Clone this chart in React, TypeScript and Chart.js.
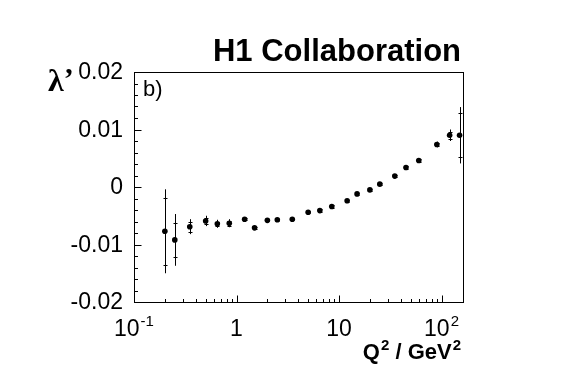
import React, { useEffect, useRef } from "react";
import { Chart, registerables } from "chart.js";

Chart.register(...registerables);

// ---- data ----
const q2 = [0.2, 0.25, 0.35, 0.5, 0.65, 0.85, 1.2, 1.5, 2.0, 2.5, 3.5, 5.0, 6.5, 8.5, 12, 15, 20, 25, 35, 45, 60, 90, 120, 150];
const lambdaPrime = [
  -0.0077, -0.0092, -0.0069, -0.0059, -0.0064, -0.0063, -0.0056, -0.0071, -0.0058, -0.0057, -0.0056, -0.0044,
  -0.0041, -0.0034, -0.0024, -0.0012, -0.0005, 0.0005, 0.0019, 0.0034, 0.0046, 0.0074, 0.009, 0.009,
];
const statErr = [
  0.0058, 0.0029, 0.0009, 0.0005, 0.0004, 0.0004, 0.0002, 0.0002, 0.0002, 0.0002, 0.0002, 0.0002,
  0.0002, 0.0002, 0.0002, 0.0002, 0.0002, 0.0002, 0.0002, 0.0002, 0.0002, 0.0003, 0.0006, 0.0038,
];
const totalErr = [
  0.0073, 0.0045, 0.0013, 0.0009, 0.0007, 0.0007, 0.0003, 0.0003, 0.0003, 0.0003, 0.0003, 0.0003,
  0.0003, 0.0003, 0.0003, 0.0003, 0.0003, 0.0003, 0.0003, 0.0003, 0.0003, 0.0005, 0.001, 0.0049,
];

const yTickValues = [-0.02, -0.01, 0, 0.01, 0.02];
const yTickLabels = ["-0.02", "-0.01", "0", "0.01", "0.02"];
const yMinorStep = 0.002;
const xTickValues = [0.1, 1, 10, 100];
const xTickBase = ["10", "1", "10", "10"];
const xTickExp = ["-1", "", "", "2"];
const xMin = 0.1;
const xMax = 162;
const yMin = -0.02;
const yMax = 0.02;

const titleText = "H1 Collaboration";
const yTitleMain = "λ";
const yTitlePrime = "’";
const panelText = "b)";
const xTitleParts = [
  { t: "Q", sup: false },
  { t: "2", sup: true },
  { t: " / GeV", sup: false },
  { t: "2", sup: true },
];

const SANS = "'Liberation Sans', Arial, Helvetica, sans-serif";
const SERIF = "'Liberation Serif', 'Times New Roman', serif";

const rootStylePlugin = {
  id: "rootStyle",
  beforeDatasetsDraw(chart: any) {
    const { ctx, scales } = chart;
    const x = scales.x;
    const y = scales.y;
    ctx.save();
    ctx.strokeStyle = "#000";
    ctx.lineWidth = 1;
    q2.forEach((q, i) => {
      const px = Math.round(x.getPixelForValue(q)) + 0.5;
      const v = lambdaPrime[i];
      const yT1 = y.getPixelForValue(v + totalErr[i]);
      const yT2 = y.getPixelForValue(v - totalErr[i]);
      ctx.beginPath();
      ctx.moveTo(px, yT1);
      ctx.lineTo(px, yT2);
      ctx.stroke();
      const yS1 = Math.round(y.getPixelForValue(v + statErr[i])) + 0.5;
      const yS2 = Math.round(y.getPixelForValue(v - statErr[i])) + 0.5;
      ctx.beginPath();
      ctx.moveTo(px - 2, yS1);
      ctx.lineTo(px + 2, yS1);
      ctx.moveTo(px - 2, yS2);
      ctx.lineTo(px + 2, yS2);
      ctx.stroke();
    });
    ctx.restore();
  },
  afterDraw(chart: any) {
    const { ctx, chartArea, scales } = chart;
    const x = scales.x;
    const y = scales.y;
    const L = Math.round(chartArea.left) + 0.5;
    const R = Math.round(chartArea.right) + 0.5;
    const T = Math.round(chartArea.top) + 0.5;
    const B = Math.round(chartArea.bottom) + 0.5;
    ctx.save();
    ctx.strokeStyle = "#000";
    ctx.lineWidth = 1;
    ctx.strokeRect(L, T, R - L, B - T);

    // y ticks (inside, on left axis)
    ctx.beginPath();
    const nMinor = Math.round((yMax - yMin) / yMinorStep);
    for (let k = 0; k <= nMinor; k++) {
      const v = yMin + k * yMinorStep;
      const py = Math.round(y.getPixelForValue(v)) + 0.5;
      const major = k % 5 === 0;
      ctx.moveTo(L, py);
      ctx.lineTo(L + (major ? 7 : 3.5), py);
    }
    // x ticks (inside, on bottom axis), log
    xTickValues.forEach((d) => {
      for (let m = 1; m <= 9; m++) {
        const v = m * d;
        if (v < xMin - 1e-9 || v > xMax) continue;
        const px = Math.round(x.getPixelForValue(v)) + 0.5;
        ctx.moveTo(px, B);
        ctx.lineTo(px, B - (m === 1 ? 7 : 3.5));
      }
    });
    ctx.stroke();

    ctx.fillStyle = "#000";
    // y labels
    ctx.font = `23px ${SANS}`;
    ctx.textAlign = "right";
    ctx.textBaseline = "middle";
    yTickValues.forEach((v, i) => {
      ctx.fillText(yTickLabels[i], chartArea.left - 11, y.getPixelForValue(v) + 1);
    });

    // x labels with superscripts
    ctx.textBaseline = "alphabetic";
    ctx.textAlign = "left";
    xTickValues.forEach((v, i) => {
      ctx.font = `23px ${SANS}`;
      const wb = ctx.measureText(xTickBase[i]).width;
      ctx.font = `15px ${SANS}`;
      const we = xTickExp[i] ? ctx.measureText(xTickExp[i]).width + 1 : 0;
      const cx = x.getPixelForValue(v);
      const x0 = cx - (wb + we) / 2;
      const base = chartArea.bottom + 34;
      ctx.font = `23px ${SANS}`;
      ctx.fillText(xTickBase[i], x0, base);
      if (xTickExp[i]) {
        ctx.font = `15px ${SANS}`;
        ctx.fillText(xTickExp[i], x0 + wb + 1, base - 10);
      }
    });

    // x title, right aligned
    const parts = xTitleParts.map((p) => ({ ...p, font: p.sup ? `bold 15px ${SANS}` : `bold 22px ${SANS}` }));
    let tw = 0;
    parts.forEach((p) => {
      ctx.font = p.font;
      tw += ctx.measureText(p.t).width + (p.sup ? 1 : 0);
    });
    let xx = chartArea.right - 2 - tw;
    const xb = chartArea.bottom + 57;
    parts.forEach((p) => {
      ctx.font = p.font;
      ctx.fillText(p.t, xx + (p.sup ? 1 : 0), p.sup ? xb - 9 : xb);
      xx += ctx.measureText(p.t).width + (p.sup ? 1 : 0);
    });

    // title
    ctx.font = `bold 31px ${SANS}`;
    ctx.textAlign = "right";
    ctx.fillText(titleText, chartArea.right - 2, 61);

    // panel label
    ctx.font = `22px ${SANS}`;
    ctx.textAlign = "left";
    ctx.fillText(panelText, chartArea.left + 9, chartArea.top + 24);

    // y title
    ctx.font = `bold 32px ${SERIF}`;
    ctx.fillText(yTitleMain, 48, 91);
    const wl = ctx.measureText(yTitleMain).width;
    ctx.font = `bold 30px ${SERIF}`;
    ctx.fillText(yTitlePrime, 48 + wl, 88);

    ctx.restore();
  },
};

export default function App() {
  const ref = useRef<HTMLCanvasElement | null>(null);
  useEffect(() => {
    if (!ref.current) return;
    const chart = new Chart(ref.current, {
      type: "scatter",
      data: {
        datasets: [
          {
            data: q2.map((q, i) => ({ x: q, y: lambdaPrime[i] })),
            pointRadius: 2.8,
            pointBackgroundColor: "#000",
            pointBorderWidth: 0,
            pointBorderColor: "#000",
            showLine: false,
          },
        ],
      },
      options: {
        responsive: false,
        animation: false,
        events: [],
        layout: { padding: { left: 134, right: 104, top: 72, bottom: 76 } },
        plugins: { legend: { display: false }, tooltip: { enabled: false }, title: { display: false } },
        scales: {
          x: { type: "logarithmic", min: xMin, max: xMax, display: false },
          y: { type: "linear", min: yMin, max: yMax, display: false },
        },
      },
      plugins: [rootStylePlugin],
    });
    return () => chart.destroy();
  }, []);
  return (
    <div style={{ position: "absolute", left: 0, top: 0, width: 567, height: 378, background: "#fff" }}>
      <canvas ref={ref} width={567} height={378} style={{ display: "block", width: 567, height: 378 }} />
    </div>
  );
}
